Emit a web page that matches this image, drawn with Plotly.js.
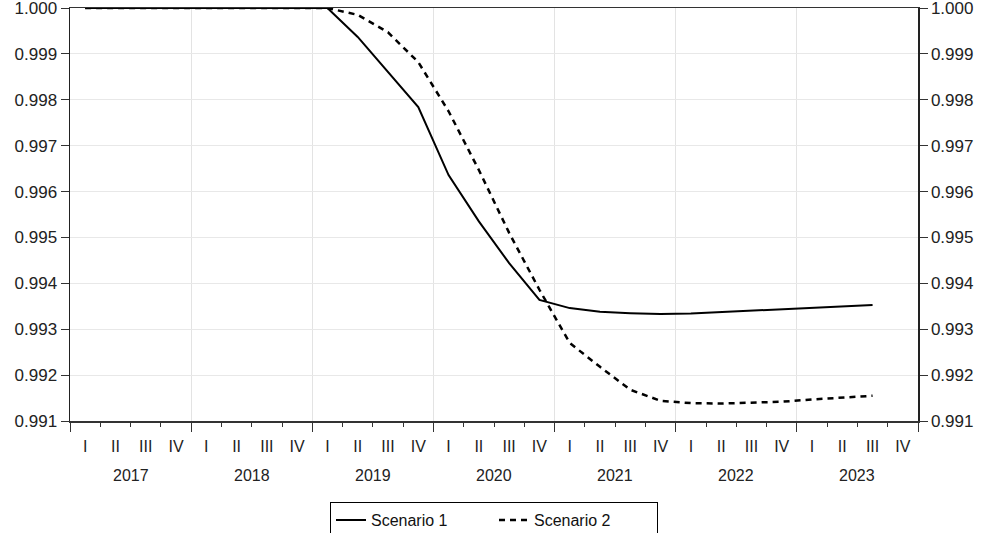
<!DOCTYPE html>
<html>
<head>
<meta charset="utf-8">
<script src="https://cdn.plot.ly/plotly-3.0.1.min.js"></script>
<style>html,body{margin:0;padding:0;background:#fff;}#chart{width:985px;height:533px;}</style>
</head>
<body>
<div id="chart"></div>
<script>
// Quarterly periods 2017Q1 .. 2023Q3
const years = [2017, 2018, 2019, 2020, 2021, 2022, 2023];
const quarterLabels = ["I", "II", "III", "IV"];
const yTicks = [0.991, 0.992, 0.993, 0.994, 0.995, 0.996, 0.997, 0.998, 0.999, 1.000];
const yTickText = ["0.991", "0.992", "0.993", "0.994", "0.995", "0.996", "0.997", "0.998", "0.999", "1.000"];
const scenario1 = [
  1.00000, 1.00000, 1.00000, 1.00000,
  1.00000, 1.00000, 1.00000, 1.00000,
  1.00000, 0.99937, 0.99861, 0.99784,
  0.99636, 0.99535, 0.99444, 0.99364,
  0.99346, 0.99338, 0.99335, 0.99333,
  0.99334, 0.99337, 0.99340, 0.99343,
  0.99346, 0.99349, 0.99353
];
const scenario2 = [
  1.00000, 1.00000, 1.00000, 1.00000,
  1.00000, 1.00000, 1.00000, 1.00000,
  1.00000, 0.99985, 0.99947, 0.99882,
  0.99775, 0.99647, 0.99510, 0.99386,
  0.99270, 0.99218, 0.99168, 0.99144,
  0.99139, 0.99138, 0.99140, 0.99142,
  0.99147, 0.99151, 0.99155
];
const seriesNames = ["Scenario 1", "Scenario 2"];

// x positions at quarter centres
const xs = [];
for (let i = 0; i < scenario1.length; i++) {
  const y = years[Math.floor(i / 4)];
  xs.push(y + ((i % 4) + 0.5) / 4);
}
const qVals = [], qText = [];
years.forEach(y => quarterLabels.forEach((q, k) => { qVals.push(y + (k + 0.5) / 4); qText.push(q); }));

const font = "Liberation Sans, Arial, sans-serif";
const xMin = years[0], xMax = years[years.length - 1] + 1;
const yMin = yTicks[0], yMax = yTicks[yTicks.length - 1];

const traces = [
  {x: xs, y: scenario1, name: seriesNames[0], type: "scatter", mode: "lines",
   line: {color: "#000", width: 2}},
  {x: xs, y: scenario2, name: seriesNames[1], type: "scatter", mode: "lines",
   line: {color: "#000", width: 2.5, dash: "6px,5px"}},
  {x: [xs[0]], y: [scenario1[0]], xaxis: "x2", yaxis: "y2", type: "scatter", mode: "lines",
   showlegend: false, hoverinfo: "skip", line: {color: "rgba(0,0,0,0)"}}
];

const annotations = years.map(y => ({
  x: y + 0.5, xref: "x", y: -0.133, yref: "paper", yanchor: "middle",
  text: String(y), showarrow: false, font: {family: font, size: 16, color: "#222"}
}));

const yCommon = {
  range: [yMin, yMax], tickmode: "array", tickvals: yTicks, ticktext: yTickText,
  ticks: "outside", ticklen: 8, tickcolor: "#333", zeroline: false,
  showline: true, linecolor: "#222", linewidth: 1.5, ticklabeloverflow: "allow",
  tickfont: {family: font, size: 17, color: "#222"}
};

const layout = {
  width: 985, height: 533,
  margin: {l: 70, r: 67, t: 8, b: 112},
  paper_bgcolor: "#fff", plot_bgcolor: "#fff",
  showlegend: true,
  legend: {orientation: "h", x: 0.5, xanchor: "center", xref: "paper",
           y: 0.058, yref: "container", yanchor: "top",
           entrywidth: 118, entrywidthmode: "pixels",
           bordercolor: "#000", borderwidth: 1, font: {family: font, size: 16, color: "#111"},
           traceorder: "normal"},
  xaxis: {range: [xMin, xMax], tickmode: "linear", tick0: xMin, dtick: 1,
          ticks: "outside", ticklen: 9, tickcolor: "#333", showticklabels: false,
          showgrid: true, gridcolor: "#e3e3e3", zeroline: false,
          showline: true, linecolor: "#333", linewidth: 1.5, mirror: true,
          minor: {tickmode: "linear", tick0: xMin, dtick: 0.25, ticks: "outside", ticklen: 4,
                  tickcolor: "#333", showgrid: false}},
  xaxis2: {range: [xMin, xMax], overlaying: "x", anchor: "y", side: "bottom",
           tickmode: "array", tickvals: qVals, ticktext: qText, ticks: "",
           ticklabelstandoff: 14,
           showgrid: false, zeroline: false, showline: false,
           tickfont: {family: font, size: 16, color: "#222"}},
  yaxis: Object.assign({}, yCommon, {showgrid: true, gridcolor: "#e8e8e8"}),
  yaxis2: Object.assign({}, yCommon, {overlaying: "y", side: "right", anchor: "x", showgrid: false}),
  annotations: annotations
};

Plotly.newPlot("chart", traces, layout, {displayModeBar: false, staticPlot: true});
</script>
</body>
</html>
